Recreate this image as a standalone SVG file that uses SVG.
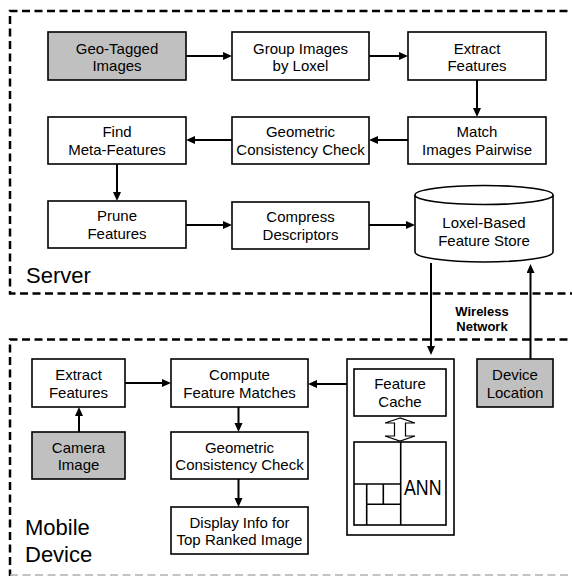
<svg xmlns="http://www.w3.org/2000/svg" width="572" height="576" viewBox="0 0 572 576">
  <style>
    .box { fill: #ffffff; stroke: #000000; stroke-width: 1.6; }
    .gray { fill: #c0c0c0; }
    .lbl { font-family: "Liberation Sans", Arial, sans-serif; font-size: 15px; fill: #000000; text-anchor: middle; }
    .big { font-family: "Liberation Sans", Arial, sans-serif; font-size: 22px; fill: #000000; }
    .net { font-family: "Liberation Sans", Arial, sans-serif; font-size: 13px; font-weight: bold; fill: #000000; text-anchor: middle; }
    .region { fill: none; stroke: #000000; stroke-width: 2.5; stroke-dasharray: 8 4.5; }
    .edge { fill: none; stroke: #000000; stroke-width: 2; marker-end: url(#head); }
    .thin { fill: none; stroke: #000000; stroke-width: 1.6; }
  </style>
  <defs>
    <marker id="head" markerUnits="userSpaceOnUse" markerWidth="10" markerHeight="9" refX="6" refY="4" orient="auto">
      <path d="M0,0 L9,4 L0,8 Z" fill="#000000"/>
    </marker>
  </defs>
  <rect width="572" height="576" fill="#ffffff"/>

  <!-- region outlines -->
  <g id="server-region">
    <path class="region" d="M 580,11 H 10 V 293.5 H 580"/>
    <text class="big" x="26" y="283">Server</text>
  </g>
  <g id="mobile-region">
    <path class="region" d="M 580,339.5 H 10 V 576"/>
    <line x1="10" y1="575" x2="580" y2="575" stroke="#b0b0b0" stroke-width="1.5" stroke-dasharray="8 4.5"/>
    <text class="big" x="25" y="535">Mobile</text>
    <text class="big" x="25" y="562">Device</text>
  </g>

  <!-- server pipeline -->
  <g id="geo-tagged">
    <rect class="box gray" x="48" y="32" width="138" height="48"/>
    <text class="lbl" x="117" y="54">Geo-Tagged</text>
    <text class="lbl" x="117" y="71">Images</text>
  </g>
  <g id="group-images">
    <rect class="box" x="232" y="32" width="137" height="48"/>
    <text class="lbl" x="300.5" y="54">Group Images</text>
    <text class="lbl" x="300.5" y="71">by Loxel</text>
  </g>
  <g id="extract-server">
    <rect class="box" x="408" y="32" width="138" height="48"/>
    <text class="lbl" x="477" y="54">Extract</text>
    <text class="lbl" x="477" y="71">Features</text>
  </g>
  <g id="find-meta">
    <rect class="box" x="48" y="117" width="138" height="47"/>
    <text class="lbl" x="117" y="137">Find</text>
    <text class="lbl" x="117" y="154.5">Meta-Features</text>
  </g>
  <g id="geometric-server">
    <rect class="box" x="232" y="117" width="137" height="47"/>
    <text class="lbl" x="300.5" y="137">Geometric</text>
    <text class="lbl" x="300.5" y="154.5">Consistency Check</text>
  </g>
  <g id="match-pairwise">
    <rect class="box" x="408" y="117" width="138" height="47"/>
    <text class="lbl" x="477" y="137">Match</text>
    <text class="lbl" x="477" y="154.5">Images  Pairwise</text>
  </g>
  <g id="prune">
    <rect class="box" x="48" y="201" width="138" height="47"/>
    <text class="lbl" x="117" y="221">Prune</text>
    <text class="lbl" x="117" y="238.5">Features</text>
  </g>
  <g id="compress">
    <rect class="box" x="232" y="202" width="137" height="47"/>
    <text class="lbl" x="300.5" y="222">Compress</text>
    <text class="lbl" x="300.5" y="239.5">Descriptors</text>
  </g>
  <g id="feature-store">
    <path class="box" d="M 415,195 V 252 A 69,10 0 0 0 553,252 V 195"/>
    <ellipse class="box" cx="484" cy="195" rx="69" ry="9.5"/>
    <text class="lbl" x="484" y="228">Loxel-Based</text>
    <text class="lbl" x="484" y="245.5">Feature Store</text>
  </g>

  <!-- mobile pipeline -->
  <g id="extract-mobile">
    <rect class="box" x="32" y="359" width="93" height="48"/>
    <text class="lbl" x="78.5" y="380">Extract</text>
    <text class="lbl" x="78.5" y="397.5">Features</text>
  </g>
  <g id="camera-image">
    <rect class="box gray" x="32" y="432" width="93" height="47"/>
    <text class="lbl" x="78.5" y="452.5">Camera</text>
    <text class="lbl" x="78.5" y="470">Image</text>
  </g>
  <g id="compute-matches">
    <rect class="box" x="171" y="359" width="137" height="48"/>
    <text class="lbl" x="239.5" y="380">Compute</text>
    <text class="lbl" x="239.5" y="397.5">Feature Matches</text>
  </g>
  <g id="geometric-mobile">
    <rect class="box" x="171" y="432" width="137" height="47"/>
    <text class="lbl" x="239.5" y="452.5">Geometric</text>
    <text class="lbl" x="239.5" y="470">Consistency Check</text>
  </g>
  <g id="display-info">
    <rect class="box" x="171" y="507" width="137" height="47"/>
    <text class="lbl" x="239.5" y="527.5">Display Info for</text>
    <text class="lbl" x="239.5" y="545">Top Ranked Image</text>
  </g>
  <g id="cache-container">
    <rect class="box" x="347" y="359" width="107" height="176" stroke-width="2"/>
  </g>
  <g id="feature-cache">
    <rect class="box" x="354" y="369" width="92" height="47"/>
    <text class="lbl" x="400" y="389">Feature</text>
    <text class="lbl" x="400" y="406.5">Cache</text>
  </g>
  <g id="cache-ann-link">
    <polygon points="400,418 385,423 394.5,423 394.5,436 385,436 400,441 415,436 405.5,436 405.5,423 415,423" fill="#ffffff" stroke="#000000" stroke-width="1.2"/>
  </g>
  <g id="ann">
    <rect class="box" x="354" y="442" width="92" height="83"/>
    <line class="thin" x1="400.7" y1="442" x2="400.7" y2="525"/>
    <line class="thin" x1="354" y1="484" x2="400.7" y2="484"/>
    <line class="thin" x1="366.7" y1="504.3" x2="400.7" y2="504.3"/>
    <line class="thin" x1="366.7" y1="484" x2="366.7" y2="525"/>
    <line class="thin" x1="383.3" y1="484" x2="383.3" y2="504.3"/>
    <text x="404" y="495" font-family="Liberation Sans, Arial, sans-serif" font-size="22" textLength="37.5" lengthAdjust="spacingAndGlyphs" fill="#000000">ANN</text>
  </g>
  <g id="device-location">
    <rect class="box gray" x="477" y="359" width="76" height="48"/>
    <text class="lbl" x="515" y="380">Device</text>
    <text class="lbl" x="515" y="397.5">Location</text>
  </g>
  <g id="wireless-label">
    <text class="net" x="482" y="315.5">Wireless</text>
    <text class="net" x="482" y="331">Network</text>
  </g>

  <!-- connectors -->
  <g id="connectors">
    <line class="edge" x1="186" y1="56" x2="229" y2="56"/>
    <line class="edge" x1="369" y1="56" x2="405" y2="56"/>
    <line class="edge" x1="477" y1="80" x2="477" y2="114"/>
    <line class="edge" x1="408" y1="140" x2="372" y2="140"/>
    <line class="edge" x1="232" y1="140" x2="189" y2="140"/>
    <line class="edge" x1="117" y1="164" x2="117" y2="198"/>
    <line class="edge" x1="186" y1="225" x2="229" y2="225"/>
    <line class="edge" x1="369" y1="225" x2="412" y2="225"/>
    <line class="edge" x1="431" y1="263" x2="431" y2="352"/>
    <line class="edge" x1="530.5" y1="359" x2="530.5" y2="267"/>
    <line class="edge" x1="347" y1="384" x2="311" y2="384"/>
    <line class="edge" x1="125" y1="383" x2="168" y2="383"/>
    <line class="edge" x1="79" y1="432" x2="79" y2="410"/>
    <line class="edge" x1="238.5" y1="407" x2="238.5" y2="429"/>
    <line class="edge" x1="238.5" y1="479" x2="238.5" y2="504"/>
  </g>
</svg>
